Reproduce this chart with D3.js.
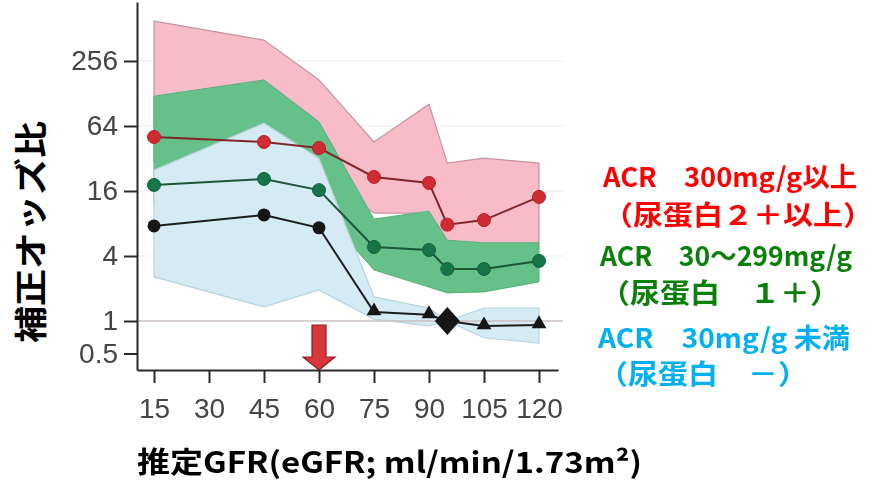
<!DOCTYPE html>
<html>
<head>
<meta charset="utf-8">
<script src="https://cdn.jsdelivr.net/npm/d3@7"></script>
<style>
  html, body { margin: 0; padding: 0; background: #fff; }
  svg { display: block; }
</style>
</head>
<body>
<svg id="chart" width="876" height="480"></svg>
<script>
// eGFR categories (ml/min/1.73m2) at which odds ratios are reported
const egfr = [15, 45, 60, 75, 90, 95, 105, 120];
const referenceEgfr = 95;

// Axis ticks
const xTicks = [15, 30, 45, 60, 75, 90, 105, 120];
const yTicks = [0.5, 1, 4, 16, 64, 256];

// ACR >= 300 mg/g: adjusted odds ratio and 95% CI
const redOR = [50.6, 45.5, 40, 21.6, 19, 7.8, 8.6, 14.1];
const redLo = [30, 30, 22, 10, 10, 5.4, 5.2, 5.1];
const redHi = [600, 400, 171, 45.5, 102, 29, 32.3, 29];

// ACR 30-299 mg/g
const greenOR = [18.2, 20.7, 16.3, 4.85, 4.55, 3.03, 3.03, 3.6];
const greenLo = [12, 13, 11, 2.97, 2.06, 1.82, 1.86, 2.3];
const greenHi = [121, 171, 70, 8.8, 10.4, 5.6, 5.3, 5.3];

// ACR < 30 mg/g
const blueOR = [7.6, 9.6, 7.3, 1.21, 1.14, 1, 0.9, 0.92];
const blueLo = [2.56, 1.35, 1.94, 1.04, 0.9, 1, 0.70, 0.625];
const blueHi = [25, 68, 32, 1.67, 1.32, 1, 1.32, 1.32];

// Legend text
const legendLines = [
  { text: "ACR\u3000300mg/g以上", color: "#ff0000" },
  { text: "（尿蛋白２＋以上）", color: "#ff0000" },
  { text: "ACR\u300030～299mg/g", color: "#0a800a" },
  { text: "（尿蛋白\u3000１＋）", color: "#0a800a" },
  { text: "ACR\u300030mg/g 未満", color: "#00b0f0" },
  { text: "（尿蛋白\u3000－）", color: "#00b0f0" }
];

const svg = d3.select("#chart");

// Scales
const x = d3.scaleLinear().domain([15, 120]).range([154, 539]);
const y = d3.scaleLog().base(2).domain([1, 256]).range([321, 61]);
const xFull = x.copy().domain([x.invert(137), x.invert(558)]).range([137, 558]);
const yFull = y.copy().domain([y.invert(370), y.invert(2)]).range([370, 2]);

const defs = svg.append("defs");
defs.append("filter").attr("id", "soft")
  .attr("x", "-5%").attr("y", "-5%").attr("width", "110%").attr("height", "110%")
  .append("feGaussianBlur").attr("stdDeviation", 0.55);

const plot = svg.append("g").attr("filter", "url(#soft)");

// Horizontal grid lines
plot.append("g").selectAll("line")
  .data(yTicks.filter(d => d !== 1 && d !== 0.5))
  .join("line")
  .attr("x1", 137).attr("x2", 563)
  .attr("y1", d => y(d)).attr("y2", d => y(d))
  .attr("stroke", "#ececec").attr("stroke-width", 1.2);

// Confidence bands
function bandData(lo, hi) {
  return egfr.map((e, i) => ({ e, lo: lo[i], hi: hi[i] }));
}
const area = d3.area()
  .x(d => x(d.e))
  .y0(d => y(d.lo))
  .y1(d => y(d.hi));

plot.append("path").datum(bandData(redLo, redHi))
  .attr("d", area).attr("fill", "#f8bcc8")
  .attr("stroke", "#c4949e").attr("stroke-width", 1.2);
plot.append("path").datum(bandData(greenLo, greenHi))
  .attr("d", area).attr("fill", "#66c08a")
  .attr("stroke", "#5aae7c").attr("stroke-width", 1);
plot.append("path").datum(bandData(blueLo, blueHi))
  .attr("d", area).attr("fill", "#d4ebf3")
  .attr("stroke", "#b6d3dc").attr("stroke-width", 1.2);

// Reference line at odds ratio 1
plot.append("line")
  .attr("x1", 137).attr("x2", 563)
  .attr("y1", y(1)).attr("y2", y(1))
  .attr("stroke", "#c9c0c0").attr("stroke-width", 1.6);

// Series lines
const line = d3.line().x(d => x(d.e)).y(d => y(d.v));
function pts(vals) { return egfr.map((e, i) => ({ e, v: vals[i] })); }

plot.append("path").datum(pts(redOR)).attr("d", line)
  .attr("fill", "none").attr("stroke", "#80282c").attr("stroke-width", 2);
plot.append("path").datum(pts(greenOR)).attr("d", line)
  .attr("fill", "none").attr("stroke", "#1d5538").attr("stroke-width", 2);
plot.append("path").datum(pts(blueOR)).attr("d", line)
  .attr("fill", "none").attr("stroke", "#1c1c1c").attr("stroke-width", 2);

// Markers
plot.append("g").selectAll("circle").data(pts(redOR)).join("circle")
  .attr("cx", d => x(d.e)).attr("cy", d => y(d.v)).attr("r", 6.5)
  .attr("fill", "#d02a30").attr("stroke", "#b52026").attr("stroke-width", 1);
plot.append("g").selectAll("circle").data(pts(greenOR)).join("circle")
  .attr("cx", d => x(d.e)).attr("cy", d => y(d.v)).attr("r", 6.5)
  .attr("fill", "#17744a").attr("stroke", "#12603c").attr("stroke-width", 1);

const blackPts = pts(blueOR);
const blackG = plot.append("g");
blackG.selectAll("circle").data(blackPts.filter(d => d.e <= 60)).join("circle")
  .attr("cx", d => x(d.e)).attr("cy", d => y(d.v)).attr("r", 6.5)
  .attr("fill", "#151515");
blackG.selectAll("path.tri").data(blackPts.filter(d => d.e > 60 && d.e !== referenceEgfr)).join("path")
  .attr("class", "tri")
  .attr("transform", d => `translate(${x(d.e)},${y(d.v) - 1})`)
  .attr("d", d3.symbol().type(d3.symbolTriangle).size(95))
  .attr("fill", "#151515");
blackG.selectAll("path.dia").data(blackPts.filter(d => d.e === referenceEgfr)).join("path")
  .attr("class", "dia")
  .attr("transform", d => `translate(${x(d.e)},${y(d.v)})`)
  .attr("d", "M0,-14L12.5,0L0,14L-12.5,0Z")
  .attr("fill", "#151515");

// Arrow marking eGFR 60
const ax = x(60);
plot.append("path")
  .attr("d", `M${ax - 7},325 L${ax + 7},325 L${ax + 7},357 L${ax + 16},357 L${ax},370 L${ax - 16},357 L${ax - 7},357 Z`)
  .attr("fill", "#d8383c").attr("stroke", "#8e1e20").attr("stroke-width", 1.2);

// Axes
const axisFont = "'Liberation Sans', Arial, Helvetica, sans-serif";
const yAxis = plot.append("g").attr("transform", "translate(137,0)")
  .call(d3.axisLeft(yFull).tickValues(yTicks).tickFormat(d => String(d))
    .tickSize(13).tickSizeOuter(0).tickPadding(6));
const xAxis = plot.append("g").attr("transform", "translate(0,370)")
  .call(d3.axisBottom(xFull).tickValues(xTicks).tickFormat(d => String(d))
    .tickSize(13).tickSizeOuter(0).tickPadding(15));
[yAxis, xAxis].forEach(g => {
  g.select(".domain").attr("stroke", "#2a2a2a").attr("stroke-width", 2);
  g.selectAll(".tick line").attr("stroke", "#2a2a2a").attr("stroke-width", 2);
  g.selectAll(".tick text").attr("fill", "#444").attr("font-size", 28)
    .attr("font-family", axisFont);
});
xAxis.selectAll(".tick text").attr("dy", "0.71em");

// Axis titles
const cjk = "'Noto Sans CJK JP', 'Noto Sans', sans-serif";
svg.append("text")
  .attr("transform", "translate(43,232) rotate(-90)")
  .attr("text-anchor", "middle")
  .attr("font-family", cjk).attr("font-weight", "bold").attr("font-size", 33)
  .attr("textLength", 222).attr("lengthAdjust", "spacingAndGlyphs")
  .attr("fill", "#000")
  .text("補正オッズ比");

svg.append("text")
  .attr("x", 137).attr("y", 473)
  .attr("font-family", cjk).attr("font-weight", "bold").attr("font-size", 29)
  .attr("textLength", 505).attr("lengthAdjust", "spacingAndGlyphs")
  .attr("fill", "#000")
  .text("推定GFR(eGFR; ml/min/1.73m²)");

// Legend
const legendLayout = [
  { x: 603, y: 187, w: 254 },
  { x: 603, y: 225, w: 270 },
  { x: 600, y: 266, w: 252 },
  { x: 600, y: 303, w: 240 },
  { x: 598, y: 348, w: 252 },
  { x: 598, y: 384, w: 210 }
];
svg.append("g").selectAll("text").data(legendLines).join("text")
  .attr("x", (d, i) => legendLayout[i].x)
  .attr("y", (d, i) => legendLayout[i].y)
  .attr("textLength", (d, i) => legendLayout[i].w)
  .attr("lengthAdjust", "spacingAndGlyphs")
  .attr("font-family", cjk).attr("font-weight", "bold").attr("font-size", 27)
  .attr("fill", d => d.color)
  .text(d => d.text);
</script>
</body>
</html>
